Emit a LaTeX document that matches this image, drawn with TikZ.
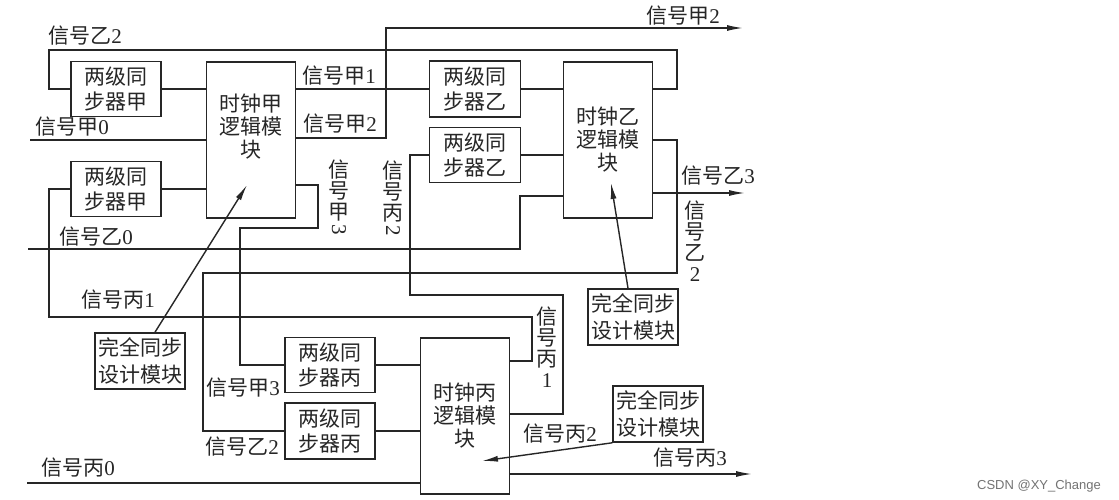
\documentclass[tikz,border=0pt]{standalone}
\usepackage{fontspec}
\usepackage{graphicx}
\setmainfont{Noto Sans CJK SC}
\newfontfamily\numfont{Liberation Serif}
\newfontfamily\wmfont{Liberation Sans}
\usetikzlibrary{arrows.meta}

% signal names: horizontal and stacked vertical
\newcommand{\sig}[2]{信号#1{\numfont #2}}
\newcommand{\vsig}[2]{信\\号\\#1\\{\numfont #2}}
\newcommand{\rdig}[1]{\raisebox{4pt}{\numfont\rotatebox[origin=c]{-90}{#1}}}

\begin{document}
\begin{tikzpicture}[
    x=1pt, y=-1pt,
    >={Latex[length=16pt,width=6pt]},
    box/.style={
      draw=black!85,
      line width=1.6pt,
      align=center,
      inner sep=0pt,
      text=black!85,
      font=\fontsize{21}{25}\selectfont,
    },
    syncbox/.style={box, minimum width=90pt, minimum height=55pt},
    clkbox/.style={box, minimum width=89pt, minimum height=156pt,
      font=\fontsize{21}{23}\selectfont},
    notebox/.style={box, minimum width=90pt, minimum height=56pt,
      font=\fontsize{21}{27}\selectfont},
    wire/.style={draw=black!85, line width=1.4pt},
    siglabel/.style={
      font=\fontsize{21}{21}\selectfont,
      inner sep=0pt,
      text=black!85,
      align=center,
    },
  ]

  \fill[white] (0,0) rectangle (1119,500);
  \useasboundingbox (0,0) rectangle (1119,500);

  % --- Clock domain A ---
  \node[syncbox] (syncA1) at (116,89) {两级同\\步器甲};
  \node[syncbox] (syncA2) at (116,189) {两级同\\步器甲};
  \node[clkbox] (clkA) at (251,140) {时钟甲\\逻辑模\\块\\[6pt]};

  % --- Clock domain B ---
  \node[syncbox, minimum width=91pt, minimum height=56pt] (syncB1) at (475,89) {两级同\\步器乙};
  \node[syncbox, minimum width=91pt] (syncB2) at (475,155) {两级同\\步器乙};
  \node[clkbox] (clkB) at (608,140) {时钟乙\\逻辑模\\块};

  % --- Clock domain C ---
  \node[syncbox] (syncC1) at (330,365) {两级同\\步器丙};
  \node[syncbox, minimum height=56pt] (syncC2) at (330,431) {两级同\\步器丙};
  \node[clkbox] (clkC) at (465,416) {时钟丙\\逻辑模\\块};

  % --- Annotation boxes ---
  \node[notebox] (noteA) at (140,361) {完全同步\\设计模块};
  \node[notebox] (noteB) at (633,317) {完全同步\\设计模块};
  \node[notebox] (noteC) at (658,414) {完全同步\\设计模块};

  % --- Bend points and free ends ---
  \coordinate (topR) at (677,50);
  \coordinate (topL) at (49,50);
  \coordinate (inA0) at (30,140);
  \coordinate (bA2) at (386,138);
  \coordinate (outA2) at (743,28);
  \coordinate (bA3a) at (318,185);
  \coordinate (bA3b) at (240,228);
  \coordinate (inB0) at (28,249);
  \coordinate (bB0) at (520,196);
  \coordinate (bB2a) at (677,273);
  \coordinate (bB2b) at (203,431);
  \coordinate (outB3) at (745,193);
  \coordinate (bC1a) at (532,361);
  \coordinate (bC1b) at (49,317);
  \coordinate (bC2a) at (563,414);
  \coordinate (bC2b) at (410,295);
  \coordinate (inC0) at (27,483);
  \coordinate (outC3) at (752,474);
  \coordinate (tipA) at (247,185);
  \coordinate (tipB) at (611,183);
  \coordinate (tipC) at (482,461);

  % --- Synchronizer outputs into the clock blocks ---
  \draw[wire] (syncA1.east) -- (clkA.west |- syncA1.east);
  \draw[wire] (syncA2.east) -- (clkA.west |- syncA2.east);
  \draw[wire] (syncB1.east) -- (clkB.west |- syncB1.east);
  \draw[wire] (syncB2.east) -- (clkB.west |- syncB2.east);
  \draw[wire] (syncC1.east) -- (clkC.west |- syncC1.east);
  \draw[wire] (syncC2.east) -- (clkC.west |- syncC2.east);

  % --- Clock A signals ---
  \draw[wire] (inA0) -- (clkA.west |- inA0);
  \draw[wire] (clkA.east |- syncB1.west) -- (syncB1.west);
  \draw[wire, ->] (clkA.east |- bA2) -- (bA2) |- (outA2);
  \draw[wire] (clkA.east |- bA3a) -- (bA3a) |- (bA3b) |- (syncC1.west);

  % --- Clock B signals ---
  \draw[wire] (clkB.east |- syncA1.west) -| (topR) -- (topL) |- (syncA1.west);
  \draw[wire] (inB0) -| (bB0) -- (clkB.west |- bB0);
  \draw[wire] (clkB.east) -| (bB2a) -| (bB2b) -- (syncC2.west);
  \draw[wire, ->] (clkB.east |- outB3) -- (outB3);

  % --- Clock C signals ---
  \draw[wire] (clkC.east |- bC1a) -- (bC1a) |- (bC1b) |- (syncA2.west);
  \draw[wire] (clkC.east |- bC2a) -- (bC2a) |- (bC2b) |- (syncB2.west);
  \draw[wire] (inC0) -- (clkC.west |- inC0);
  \draw[wire, ->] (clkC.east |- outC3) -- (outC3);

  % --- Annotation arrows ---
  \draw[wire, ->] ([xshift=15pt]noteA.north) -- (tipA);
  \draw[wire, ->] ([xshift=-5pt]noteB.north) -- (tipB);
  \draw[wire, ->] (noteC.south west) -- (tipC);

  % --- Signal labels ---
  \node[siglabel] (lB2top) at (85,36) {\sig{乙}{2}};
  \node[siglabel] (lA0) at (72,127) {\sig{甲}{0}};
  \node[siglabel] (lA1) at (339,76) {\sig{甲}{1}};
  \node[siglabel] (lA2) at (340,124) {\sig{甲}{2}};
  \node[siglabel] (lA2out) at (683,16) {\sig{甲}{2}};
  \node[siglabel] (lA3v) at (339,200) {信\\号\\甲\\\rdig{3}};
  \node[siglabel] (lC2v) at (393,201) {信\\号\\丙\\\rdig{2}};
  \node[siglabel] (lB3) at (718,176) {\sig{乙}{3}};
  \node[siglabel] (lB2v) at (695,241) {\vsig{乙}{2}};
  \node[siglabel] (lB0) at (96,237) {\sig{乙}{0}};
  \node[siglabel] (lC1) at (118,300) {\sig{丙}{1}};
  \node[siglabel] (lC1v) at (547,347) {\vsig{丙}{1}};
  \node[siglabel] (lA3) at (243,388) {\sig{甲}{3}};
  \node[siglabel] (lB2) at (242,447) {\sig{乙}{2}};
  \node[siglabel] (lC0) at (78,468) {\sig{丙}{0}};
  \node[siglabel] (lC2) at (560,434) {\sig{丙}{2}};
  \node[siglabel] (lC3) at (690,458) {\sig{丙}{3}};

  % --- Watermark ---
  \node[font=\wmfont\fontsize{13}{13}\selectfont, text=black!55, inner sep=0pt] (wm) at (1039,486) {CSDN @XY\_Change};

\end{tikzpicture}
\end{document}
